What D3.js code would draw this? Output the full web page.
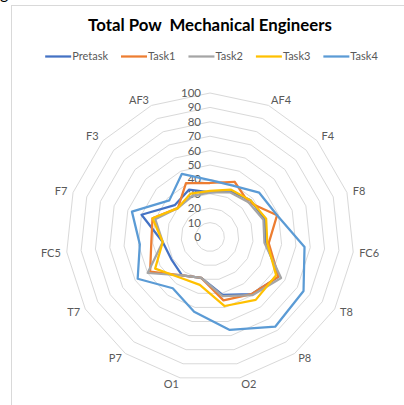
<!DOCTYPE html>
<html>
<head>
<meta charset="utf-8">
<script src="https://cdn.jsdelivr.net/npm/d3@7"></script>
<style>
  html, body { margin: 0; padding: 0; background: #fff; }
  svg { display: block; }
  text { font-family: Lato, "Open Sans", sans-serif; }
</style>
</head>
<body>
<svg id="chart" width="404" height="405"></svg>
<script>
const title = "Total Pow  Mechanical Engineers";
const categories = ["", "AF4", "F4", "F8", "FC6", "T8", "P8", "O2", "O1", "P7", "T7", "FC5", "F7", "F3", "AF3"];
const seriesNames = ["Pretask", "Task1", "Task2", "Task3", "Task4"];
const pretask = [31, 35, 38, 40, 39, 55, 49, 41, 29, 33, 31, 33, 50, 33, 36];
const task1   = [37.5, 42, 36, 49, 41, 55, 49, 45, 29, 33, 48, 41, 42, 30, 41];
const task2   = [31, 34, 36, 39, 38, 57, 50, 42, 29, 33, 50, 33, 40, 30, 31];
const task3   = [32, 36, 38, 41, 40, 53, 54, 49, 34, 35, 44, 33, 42, 30, 33];
const task4   = [39.5, 39, 46, 49, 66, 75, 77, 66, 53, 44, 58, 49, 57, 38, 48];
const valueTicks = [0, 10, 20, 30, 40, 50, 60, 70, 80, 90, 100];
const colors = ["#4472C4", "#ED7D31", "#A5A5A5", "#FFC000", "#5B9BD5"];

const seriesValues = [pretask, task1, task2, task3, task4];

const svg = d3.select("#chart");
const cx = 210, cy = 237, R = 144;
const n = categories.length;
const rScale = d3.scaleLinear().domain([0, 100]).range([0, R]);
const angle = i => i * 2 * Math.PI / n;

// stray glyph from the host document (cut off at the top edge in the reference)
svg.append("text").attr("x", 0).attr("y", -1).attr("font-family", "Liberation Serif")
  .attr("font-size", 16).attr("fill", "#000").text("g");

// chart border
svg.append("rect").attr("x", 11.5).attr("y", 5.5).attr("width", 420).attr("height", 420)
  .attr("fill", "#fff").attr("stroke", "#d9d9d9").attr("stroke-width", 1);

// title
const tt = svg.append("text").attr("x", 210).attr("y", 30.5).attr("text-anchor", "middle")
  .style("white-space", "pre").attr("xml:space", "preserve")
  .attr("font-weight", "bold").attr("font-size", 16).attr("fill", "#000").text(title);
const tw = tt.node().getComputedTextLength();
tt.attr("font-size", 16 * 244 / tw);

// legend
const lg = svg.append("g");
let lx = 0;
seriesNames.forEach((name, i) => {
  const g = lg.append("g").attr("transform", `translate(${lx},0)`);
  g.append("line").attr("x1", 0).attr("x2", 26).attr("y1", 0).attr("y2", 0)
    .attr("stroke", colors[i]).attr("stroke-width", 2.25);
  const t = g.append("text").attr("x", 27).attr("y", 0).attr("dy", "0.35em")
    .attr("font-size", 11).attr("fill", "#595959").text(name);
  lx += 27 + t.node().getComputedTextLength() + 13;
});
lx -= 13;
lg.attr("transform", `translate(${211.5 - lx / 2},56.5)`);

const plot = svg.append("g").attr("transform", `translate(${cx},${cy})`);

// grid rings
const ringLine = d3.lineRadial().angle((d, i) => angle(i)).radius(d => d).curve(d3.curveLinearClosed);
valueTicks.slice(1).forEach(t => {
  plot.append("path").attr("d", ringLine(categories.map(() => rScale(t))))
    .attr("fill", "none").attr("stroke", "#d9d9d9").attr("stroke-width", 1);
});

// value labels
valueTicks.forEach(t => {
  plot.append("text").attr("x", -9).attr("y", -rScale(t)).attr("dy", "0.35em")
    .attr("text-anchor", "end").attr("font-size", 11.5).attr("fill", "#595959").text(t);
});

// category labels
categories.forEach((c, i) => {
  const a = angle(i), rr = R + 6;
  const s = Math.sin(a);
  plot.append("text").attr("x", rr * s).attr("y", -rr * Math.cos(a)).attr("dy", "0.35em")
    .attr("text-anchor", Math.abs(s) < 1e-6 ? "middle" : (s > 0 ? "start" : "end"))
    .attr("font-size", 11).attr("fill", "#595959").text(c);
});

// series
const line = d3.lineRadial().angle((d, i) => angle(i)).radius(d => rScale(d)).curve(d3.curveLinearClosed);
seriesValues.forEach((vals, i) => {
  plot.append("path").attr("d", line(vals)).attr("fill", "none")
    .attr("stroke", colors[i]).attr("stroke-width", 2.25).attr("stroke-linejoin", "round");
});
</script>
</body>
</html>
